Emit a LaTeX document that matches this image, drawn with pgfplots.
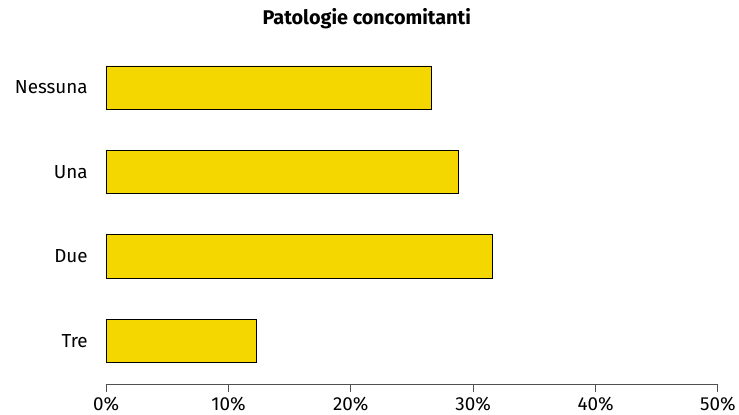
\documentclass[border=0pt]{standalone}
\usepackage{fontspec}
\setmainfont{Fira Sans}
\usepackage{pgfplots}
\pgfplotsset{compat=1.18}
\definecolor{baryellow}{RGB}{245,215,0}
\definecolor{axisgray}{RGB}{80,80,80}

\begin{document}
\begin{tikzpicture}
\begin{axis}[
    name=main,
    scale only axis,
    width=617pt,
    height=344pt,
    font=\fontsize{19}{22}\selectfont,
    xbar,
    bar width=43.5pt,
    xmin=0, xmax=50,
    ymin=-0.52, ymax=3.52,
    xtick={0,10,20,30,40,50},
    xticklabel={\pgfmathprintnumber{\tick}\%},
    /pgf/number format/assume math mode=true,
    ytick={0,1,2,3},
    yticklabels={Tre,Due,Una,Nessuna},
    axis x line*=bottom,
    axis y line*=left,
    x axis line style={draw=axisgray, line width=1pt, -},
    y axis line style={draw=none},
    xtick style={draw=axisgray, line width=1pt},
    ytick style={draw=none},
    tick align=outside,
    major tick length=7pt,
    xticklabel style={yshift=-2pt},
    yticklabel style={xshift=-8pt},
    title={Patologie concomitanti},
    title style={at={(0.426,1)}, anchor=south, yshift=5pt, font=\fontsize{20}{24}\selectfont\bfseries},
]
\addplot[fill=baryellow, draw=black, line width=0.9pt] coordinates {
    (12.3,0)
    (31.6,1)
    (28.8,2)
    (26.6,3)
};
\end{axis}
\useasboundingbox ([xshift=-107pt,yshift=-30pt]main.south west) rectangle ([xshift=15pt,yshift=44pt]main.north east);
\end{tikzpicture}
\end{document}
